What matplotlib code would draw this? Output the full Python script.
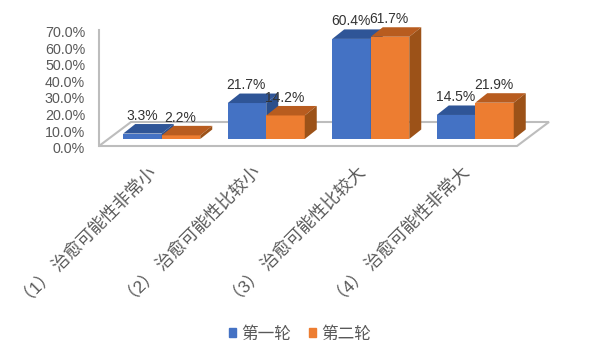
import matplotlib
matplotlib.use("Agg")
import matplotlib.pyplot as plt
from matplotlib.patches import Polygon, Patch
from matplotlib.transforms import ScaledTranslation

plt.rcParams['font.family'] = ['Liberation Sans', 'Noto Sans CJK SC', 'DejaVu Sans']

categories = ["（1） 治愈可能性非常小", "（2） 治愈可能性比较小", "（3） 治愈可能性比较大", "（4） 治愈可能性非常大"]
round1 = [3.3, 21.7, 60.4, 14.5]
round2 = [2.2, 14.2, 61.7, 21.9]
series_names = ["第一轮", "第二轮"]
y_ticks = [0, 10, 20, 30, 40, 50, 60, 70]

# colours: front, top, side
blue = ("#4472C4", "#2F5597", "#2B4F8C")
orange = ("#ED7D31", "#B85C1F", "#9C5218")
text_col = "#595959"
label_col = "#333333"
line_col = "#BDBDBD"

W, H = 600, 352
fig = plt.figure(figsize=(W / 100, H / 100), dpi=100)
# front edge of the floor and the value axis
ax = fig.add_axes([99 / W, 1 - 146 / H, 418 / W, 116 / H])
ax.set_xlim(-0.5, 3.5)
ax.set_ylim(0, 70)

px_x = 418 / 4      # pixels per category
px_y = 116 / 70     # pixels per percent
bar_w = 38.5 / px_x
shift_x = 10.5 / px_x   # bars stand further back than the front edge
base = 7 / px_y
depth_x = 12 / px_x
depth_y = 9.5 / px_y

# floor
floor_dx = 32 / px_x
floor_dy = 24 / px_y
ax.add_patch(Polygon([(-0.5, 0), (3.5, 0), (3.5 + floor_dx, floor_dy), (-0.5 + floor_dx, floor_dy)],
                     closed=True, facecolor="white", edgecolor=line_col, lw=1.5, clip_on=False, zorder=1))


def draw_bar(x, v, cols, z):
    left = x - bar_w / 2
    right = x + bar_w / 2
    top = base + v
    ax.bar(x, v, width=bar_w, bottom=base, color=cols[0], clip_on=False, zorder=z)
    ax.add_patch(Polygon([(left, top), (right, top), (right + depth_x, top + depth_y), (left + depth_x, top + depth_y)],
                         closed=True, facecolor=cols[1], edgecolor="none", clip_on=False, zorder=z))
    ax.add_patch(Polygon([(right, base), (right + depth_x, base + depth_y), (right + depth_x, top + depth_y), (right, top)],
                         closed=True, facecolor=cols[2], edgecolor="none", clip_on=False, zorder=z))
    ax.annotate(f"{v:.1f}%", (x, top), xytext=(-0.5, 12.8), textcoords="offset points", ha="center", va="center",
                fontsize=10, color=label_col, annotation_clip=False, zorder=20)


for i in range(len(categories)):
    draw_bar(i + shift_x - bar_w / 2, round1[i], blue, 3 + i * 2)
    draw_bar(i + shift_x + bar_w / 2, round2[i], orange, 4 + i * 2)

for s in ["top", "right", "bottom"]:
    ax.spines[s].set_visible(False)
ax.spines["left"].set_color(line_col)
ax.spines["left"].set_linewidth(1.5)
ax.patch.set_visible(False)

ax.set_yticks(y_ticks)
ax.set_yticklabels([f"{t:.1f}%" for t in y_ticks], fontsize=10.3, color=text_col)
ax.tick_params(axis="y", length=0, pad=10)
for lab in ax.get_yticklabels():
    lab.set_transform(lab.get_transform() + ScaledTranslation(0, -1.2 / 72, fig.dpi_scale_trans))

ax.set_xticks(range(len(categories)))
ax.set_xticklabels(categories, fontsize=12.5, color=text_col, rotation=45, ha="right", rotation_mode="anchor")
ax.tick_params(axis="x", length=0, pad=12.5)
for lab in ax.get_xticklabels():
    lab.set_transform(lab.get_transform() + ScaledTranslation(-3 / 72, 0, fig.dpi_scale_trans))

handles = [Patch(color=blue[0]), Patch(color=orange[0])]
fig.legend(handles, series_names, loc="center", bbox_to_anchor=(300 / W, 1 - 334 / H), ncol=2, frameon=False,
           fontsize=12, labelcolor=text_col, handlelength=0.42, handleheight=0.42, handletextpad=0.35, columnspacing=1.05)

fig.savefig("out.png", dpi=100)
